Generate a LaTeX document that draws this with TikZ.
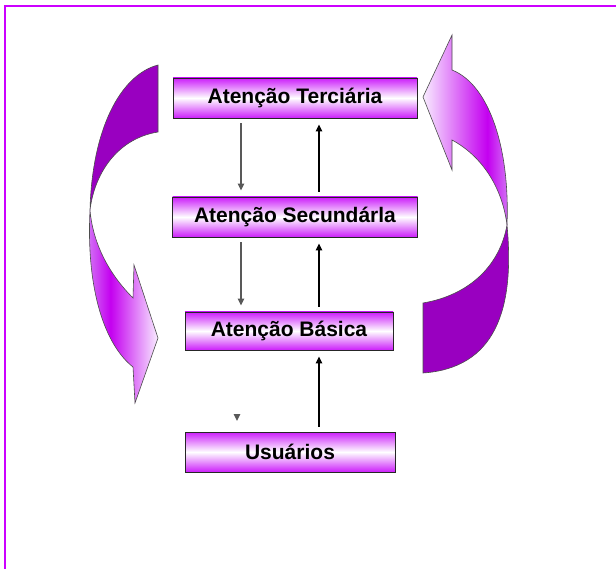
\documentclass[tikz,border=0pt]{standalone}
\usepackage{fontspec}
\setmainfont{Liberation Sans}
\usetikzlibrary{arrows.meta,positioning}
\definecolor{framevio}{RGB}{204,0,255}
\definecolor{boxvio}{RGB}{204,30,250}
\definecolor{darkvio}{RGB}{153,0,192}
\definecolor{midvio}{RGB}{212,125,245}
\definecolor{strongvio}{RGB}{196,0,240}
\definecolor{palevio}{RGB}{248,236,255}
\pgfdeclarehorizontalshading{ribbonleft}{100bp}{color(0bp)=(midvio); color(25bp)=(midvio); color(42bp)=(strongvio); color(75bp)=(palevio); color(100bp)=(palevio)}
\pgfdeclarehorizontalshading{ribbonright}{100bp}{color(0bp)=(palevio); color(25bp)=(palevio); color(62bp)=(strongvio); color(75bp)=(midvio); color(100bp)=(midvio)}

\begin{document}
\begin{tikzpicture}[x=1pt, y=-1pt, node distance=119pt,
    level/.style={draw=black!85, line width=0.9pt, rectangle, minimum height=40pt, inner sep=0pt,
        top color=boxvio, bottom color=boxvio, middle color=white, font=\fontsize{21}{24}\selectfont\bfseries},
    downline/.style={draw=black!65, line width=1.3pt, -{Triangle[length=7pt,width=6.5pt]}, shorten <=5pt, shorten >=6pt},
    upline/.style={draw=black, line width=1.1pt, -{Triangle[length=7pt,width=6.5pt]}, shorten <=5pt, shorten >=6pt},
    ribbon/.style={draw=black!70, line width=0.6pt}]
    \useasboundingbox (0,0) rectangle (616,569);
    \draw[framevio, line width=2pt] (4.5,569) -- (4.5,6) -- (616,6);

    \node (terc) [level, minimum width=244pt] at (295,98) {Atenção Terciária};
    \node (sec) [level, below of=terc, minimum width=245pt] {Atenção Secundárla};
    \node (bas) [level, below of=sec, yshift=5pt, xshift=-6pt, minimum width=208pt, minimum height=38pt] {Atenção Básica};
    \node (usu) [level, below of=bas, yshift=-2pt, xshift=1pt, minimum width=210pt] {Usuários};

    \coordinate (dn) at (241,0);
    \coordinate (up) at (319,0);
    \coordinate (stray) at (237,414);

    \draw [downline] (dn |- terc.south) -- (dn |- sec.north);
    \draw [downline] (dn |- sec.south) -- (dn |- bas.north);
    \draw [upline] (up |- sec.north) -- (up |- terc.south);
    \draw [upline] (up |- bas.north) -- (up |- sec.south);
    \draw [upline] (up |- usu.north) -- (up |- bas.south);
    \draw [downline, shorten <=0pt, shorten >=0pt] (stray) -- ++(0,7);

    \shadedraw[ribbon, shading=ribbonleft] (90,210) .. controls (86,290) and (105,345) .. (133,367)
        -- (135,403) -- (158,338) -- (134,265) -- (133,298) .. controls (110,275) and (93,245) .. (90,210) -- cycle;
    \draw[ribbon, fill=darkvio] (158,65) .. controls (120,75) and (92,130) .. (90,210)
        .. controls (95,170) and (120,138) .. (158,132) -- cycle;

    \shadedraw[ribbon, shading=ribbonright] (507,225) .. controls (510,150) and (490,85) .. (452,70)
        -- (452,35) -- (423,97) -- (452,170) -- (452,140) .. controls (480,155) and (502,185) .. (507,225) -- cycle;
    \draw[ribbon, fill=darkvio] (507,225) .. controls (515,310) and (495,368) .. (423,373)
        -- (423,303) .. controls (470,295) and (500,265) .. (507,225) -- cycle;
\end{tikzpicture}
\end{document}
